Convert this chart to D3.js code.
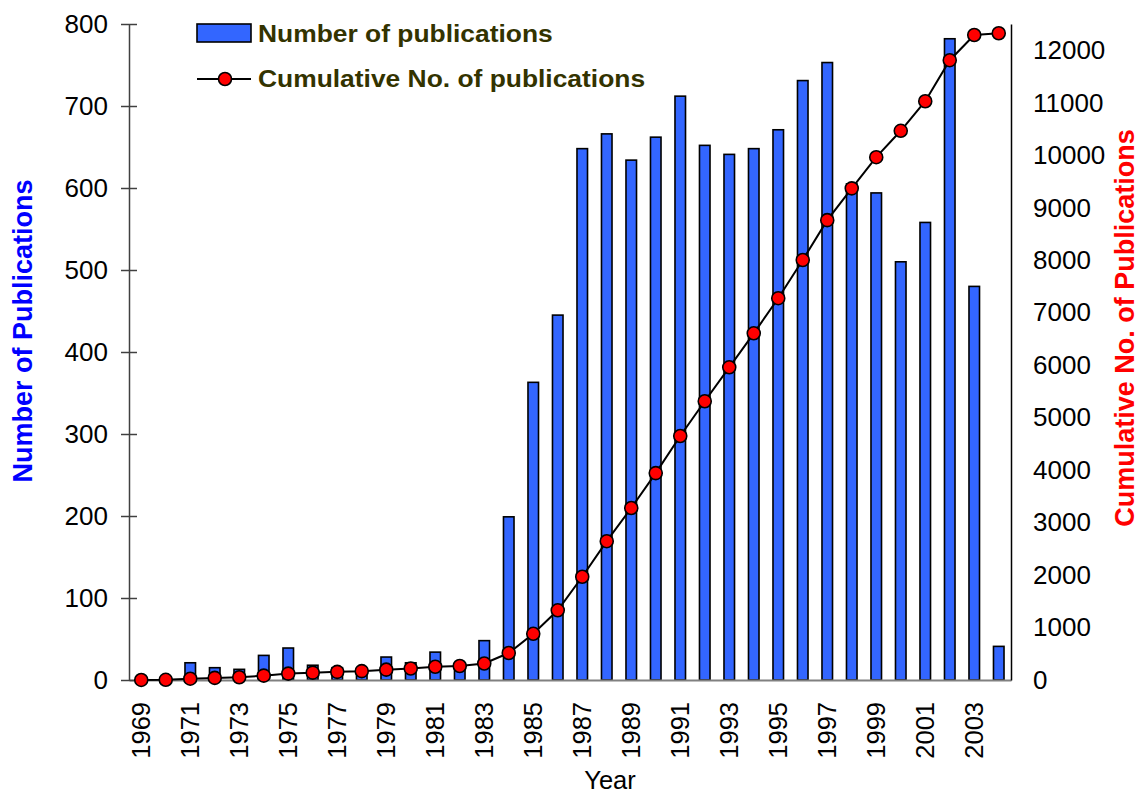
<!DOCTYPE html>
<html>
<head>
<meta charset="utf-8">
<script src="https://cdn.jsdelivr.net/npm/d3@7"></script>
<style>
  body { margin: 0; background: #fff; }
  text { font-family: "Liberation Sans", Arial, sans-serif; }
</style>
</head>
<body>
<div id="chart"></div>
<script>
// data
const years = [1969, 1970, 1971, 1972, 1973, 1974, 1975, 1976, 1977, 1978, 1979, 1980,
  1981, 1982, 1983, 1984, 1985, 1986, 1987, 1988, 1989, 1990, 1991, 1992,
  1993, 1994, 1995, 1996, 1997, 1998, 1999, 2000, 2001, 2002, 2003, 2004];
const publications = [1, 3, 21, 15, 13, 30, 39, 18, 15, 14, 28, 21,
  34, 15, 48, 199, 363, 445, 648, 666, 634, 662, 712, 652,
  641, 648, 671, 731, 753, 605, 594, 510, 558, 782, 480, 41];
const cumulative = [1, 4, 25, 40, 53, 83, 122, 140, 155, 169, 197, 218,
  252, 267, 315, 514, 880, 1328, 1968, 2645, 3277, 3942, 4649, 5312,
  5958, 6606, 7275, 8003, 8762, 9368, 9962, 10465, 11028, 11810, 12290, 12324];
const yearTicks = years.filter(d => d % 2 === 1);
const leftTicks = [0, 100, 200, 300, 400, 500, 600, 700, 800];
const rightTicks = [0, 1000, 2000, 3000, 4000, 5000, 6000, 7000, 8000, 9000, 10000, 11000, 12000];

const data = years.map((y, i) => ({year: y, pubs: publications[i], cum: cumulative[i]}));

// set the dimensions and margins of the graph
const W = 1141, H = 794;
const margin = {top: 24, right: 130, bottom: 114, left: 129},
    width = W - margin.left - margin.right,
    height = H - margin.top - margin.bottom;

const svg = d3.select("#chart")
  .append("svg")
    .attr("width", W)
    .attr("height", H)
  .append("g")
    .attr("transform", `translate(${margin.left},${margin.top})`);

// scales
const x = d3.scaleBand()
  .domain(years)
  .range([0, width])
  .paddingInner(0.57)
  .paddingOuter(0.285);

const y = d3.scaleLinear().domain([0, 800]).range([height, 0]);
const y2 = d3.scaleLinear().domain([0, 12500]).range([height, 0]);

// bars
svg.append("g")
  .selectAll("rect")
  .data(data)
  .join("rect")
    .attr("x", d => x(d.year))
    .attr("y", d => y(d.pubs))
    .attr("width", x.bandwidth())
    .attr("height", d => height - y(d.pubs))
    .attr("fill", "#3366ff")
    .attr("stroke", "#000")
    .attr("stroke-width", 1.6);

// bottom axis (labels every 2nd year, rotated)
const xAxis = svg.append("g")
  .attr("transform", `translate(0,${height})`)
  .call(d3.axisBottom(x).tickValues(yearTicks).tickSize(0).tickSizeOuter(0));
xAxis.select(".domain").attr("stroke", "#808080").attr("stroke-width", 2);
xAxis.selectAll("text")
  .attr("transform", "rotate(-90)")
  .attr("x", -22)
  .attr("y", 0)
  .attr("dy", "0.36em")
  .style("text-anchor", "end")
  .style("font-size", "25.5px")
  .attr("fill", "#000");

// left axis with crossing ticks
const yAxis = svg.append("g")
  .call(d3.axisLeft(y).tickValues(leftTicks).tickSize(8).tickSizeOuter(0).tickPadding(13));
yAxis.select(".domain").attr("stroke", "#404040").attr("stroke-width", 1.5);
yAxis.selectAll(".tick line").attr("x1", 8).attr("x2", -8).attr("stroke", "#404040").attr("stroke-width", 1.5);
yAxis.selectAll("text").style("font-size", "26px").attr("fill", "#000");

// right axis, no tick marks
const y2Axis = svg.append("g")
  .attr("transform", `translate(${width},0)`)
  .call(d3.axisRight(y2).tickValues(rightTicks).tickFormat(d3.format("d"))
    .tickSize(0).tickSizeOuter(0).tickPadding(22));
y2Axis.select(".domain").attr("stroke", "#000").attr("stroke-width", 1.5);
y2Axis.selectAll("text").style("font-size", "26px").attr("fill", "#000");

// cumulative line + markers
const cx = d => x(d.year) + x.bandwidth() / 2;
svg.append("path")
  .datum(data)
  .attr("fill", "none")
  .attr("stroke", "#000")
  .attr("stroke-width", 2)
  .attr("d", d3.line().x(cx).y(d => y2(d.cum)));

svg.append("g")
  .selectAll("circle")
  .data(data)
  .join("circle")
    .attr("cx", cx)
    .attr("cy", d => y2(d.cum))
    .attr("r", 6.5)
    .attr("fill", "#ff0000")
    .attr("stroke", "#000")
    .attr("stroke-width", 1.6);

// axis titles
const root = d3.select("#chart svg");
root.append("text")
  .attr("transform", "translate(32,331) rotate(-90)")
  .attr("text-anchor", "middle")
  .style("font-size", "27px").style("font-weight", "bold")
  .attr("fill", "#0000ff")
  .text("Number of Publications");

root.append("text")
  .attr("transform", "translate(1134,328) rotate(-90)")
  .attr("text-anchor", "middle")
  .style("font-size", "27px").style("font-weight", "bold")
  .attr("fill", "#ff0000")
  .text("Cumulative No. of Publications");

root.append("text")
  .attr("x", 610).attr("y", 789)
  .attr("text-anchor", "middle")
  .style("font-size", "25.5px")
  .attr("fill", "#000")
  .text("Year");

// legend
const legend = root.append("g");
legend.append("rect")
  .attr("x", 197).attr("y", 24).attr("width", 54).attr("height", 18)
  .attr("fill", "#3366ff").attr("stroke", "#000").attr("stroke-width", 1.6);
legend.append("line")
  .attr("x1", 197).attr("x2", 251).attr("y1", 79).attr("y2", 79)
  .attr("stroke", "#000").attr("stroke-width", 2);
legend.append("circle")
  .attr("cx", 225).attr("cy", 79).attr("r", 6.5)
  .attr("fill", "#ff0000").attr("stroke", "#000").attr("stroke-width", 1.6);
const legendText = [["Number of publications", 42], ["Cumulative No. of publications", 87]];
legend.selectAll("text.lg")
  .data(legendText)
  .join("text")
    .attr("class", "lg")
    .attr("transform", d => `translate(258,${d[1]}) scale(1.1,1)`)
    .style("font-size", "24px").style("font-weight", "bold")
    .attr("fill", "#333300")
    .text(d => d[0]);
</script>
</body>
</html>
